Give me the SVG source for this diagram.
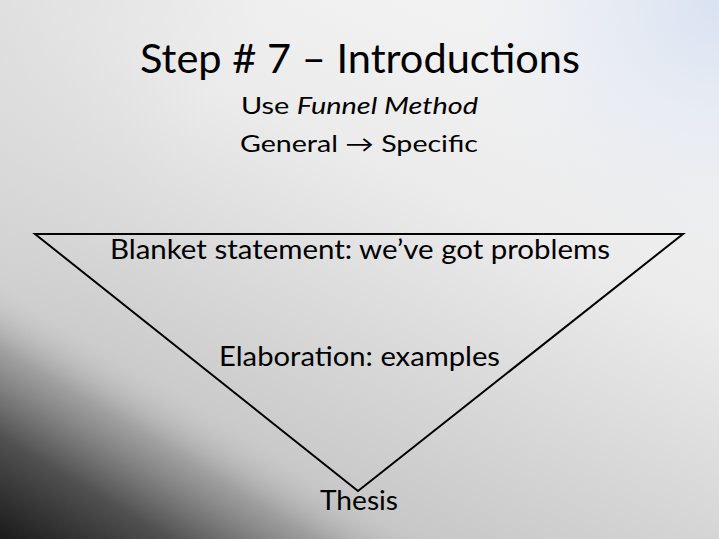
<svg xmlns="http://www.w3.org/2000/svg" width="719" height="539" viewBox="0 0 719 539">
<defs>
<linearGradient id="bg" x1="560" y1="40" x2="330" y2="539" gradientUnits="userSpaceOnUse">
<stop offset="0" stop-color="#f3f3f3"/>
<stop offset="0.35" stop-color="#ebebeb"/>
<stop offset="1" stop-color="#c3c3c3"/>
</linearGradient>
<radialGradient id="blue" cx="719" cy="0" r="260" gradientUnits="userSpaceOnUse">
<stop offset="0" stop-color="#d9e2f2" stop-opacity="1"/>
<stop offset="1" stop-color="#e6ebf4" stop-opacity="0"/>
</radialGradient>
<linearGradient id="lt" x1="0" y1="0" x2="200" y2="120" gradientUnits="userSpaceOnUse">
<stop offset="0" stop-color="#d8d8d8" stop-opacity="0.6"/>
<stop offset="1" stop-color="#d8d8d8" stop-opacity="0"/>
</linearGradient>
<linearGradient id="dark" x1="0" y1="539" x2="112" y2="352" gradientUnits="userSpaceOnUse">
<stop offset="0" stop-color="#1a1a1a" stop-opacity="1"/>
<stop offset="0.4" stop-color="#505050" stop-opacity="1"/>
<stop offset="0.75" stop-color="#999999" stop-opacity="0.85"/>
<stop offset="1" stop-color="#c4c4c4" stop-opacity="0"/>
</linearGradient>
<style>
text{font-family:Lato,"Open Sans","Liberation Sans",sans-serif;fill:#000;text-anchor:start}
.t{font-size:40px}
.s{font-size:23px}
.b{font-size:26px}
.i{font-style:italic}
</style>
</defs>
<rect width="719" height="539" fill="url(#bg)"/>
<rect width="719" height="539" fill="url(#lt)"/>
<rect width="719" height="539" fill="url(#blue)"/>
<rect width="719" height="539" fill="url(#dark)"/>
<g id="title">
<text class="t" x="140" y="73" textLength="440" lengthAdjust="spacingAndGlyphs">Step # 7 – Introductions</text>
<text class="s" x="241" y="114" textLength="237" lengthAdjust="spacingAndGlyphs">Use <tspan class="i">Funnel Method</tspan></text>
<text class="s" x="240" y="152" textLength="238" lengthAdjust="spacingAndGlyphs">General → Specific</text>
</g>
<g id="connectors">
<polygon id="funnel" points="35,234 683,234 358,491" fill="none" stroke="#000" stroke-width="2" stroke-linejoin="miter"/>
</g>
<g id="node-blanket"><text class="b" x="110" y="259" textLength="500" lengthAdjust="spacingAndGlyphs">Blanket statement: we’ve got problems</text></g>
<g id="node-elaboration"><text class="b" x="219" y="366" textLength="281" lengthAdjust="spacingAndGlyphs">Elaboration: examples</text></g>
<g id="node-thesis"><text class="b" x="320" y="510" textLength="78" lengthAdjust="spacingAndGlyphs">Thesis</text></g>
</svg>
